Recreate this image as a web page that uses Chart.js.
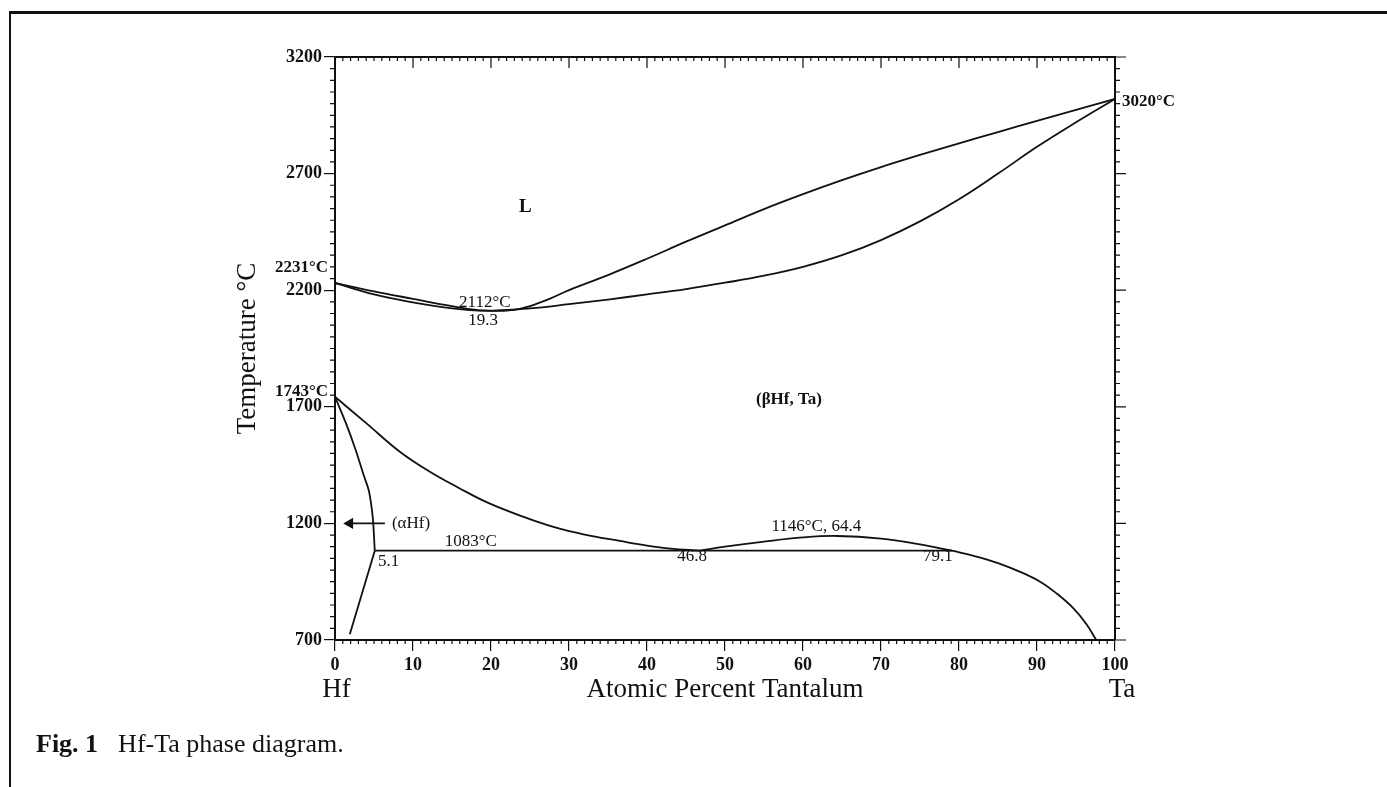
<!DOCTYPE html>
<html>
<head>
<meta charset="utf-8">
<script src="https://cdn.jsdelivr.net/npm/chart.js@4.4.1/dist/chart.umd.min.js"></script>
<style>
    body { margin: 0; background: #fff; overflow: hidden; }
    #frame { position: absolute; left: 9px; top: 11px; width: 1378px; height: 776px;
             border-top: 3px solid #111; border-left: 2px solid #111; }
    #c { position: absolute; left: 0; top: 0; }
    #caption { position: absolute; left: 36px; top: 731px; font: 26px "Liberation Serif", serif;
               line-height: 1; color: #111; white-space: pre; }
    #caption b { margin-right: 20px; }
</style>
</head>
<body>
<div id="frame"></div>
<canvas id="c" width="1387" height="787"></canvas>
<div id="caption"><b>Fig. 1</b>Hf-Ta phase diagram.</div>
<script>
// axis ticks
const compTicks = [0, 10, 20, 30, 40, 50, 60, 70, 80, 90, 100];
const tempTicks = [700, 1200, 1700, 2200, 2700, 3200];

// liquidus (upper L boundary)
const liquidusComp = [0, 5, 10, 15, 19.3, 23, 25, 27.5, 30, 35, 40, 45, 50, 55, 60, 65, 70, 75, 80, 85, 90, 95, 100];
const liquidusTemp = [2231, 2195, 2163, 2132, 2112, 2116, 2132, 2163, 2200, 2265, 2335, 2408, 2478, 2548, 2612, 2672, 2728, 2780, 2830, 2878, 2926, 2973, 3020];

// solidus
const solidusComp = [0, 5, 10, 15, 19.3, 25, 30, 35, 40, 45, 50, 55, 60, 65, 70, 75, 80, 85, 90, 95, 100];
const solidusTemp = [2231, 2182, 2148, 2122, 2112, 2122, 2140, 2160, 2182, 2205, 2232, 2262, 2300, 2350, 2415, 2495, 2590, 2700, 2815, 2920, 3020];

// (βHf,Ta) / (αHf + β) boundary
const betaComp = [0, 4, 8.4, 12, 16, 19.5, 24, 28, 32, 36.5, 40, 43, 46.8];
const betaTemp = [1743, 1630, 1505, 1425, 1350, 1290, 1230, 1185, 1152, 1125, 1105, 1092, 1083];

// (αHf) / (αHf + β) boundary
const alphaComp = [0, 1.4, 2.65, 3.7, 4.3, 4.6, 4.87, 5.1];
const alphaTemp = [1743, 1630, 1515, 1405, 1345, 1290, 1215, 1083];

// (αHf) solvus below the monotectoid
const alphaSolvusComp = [5.1, 1.9];
const alphaSolvusTemp = [1083, 725];

// monotectoid line
const monoComp = [5.1, 79.1];
const monoTemp = [1083, 1083];

// miscibility gap dome
const gapComp = [46.8, 50, 55, 60, 64.4, 70, 75, 79.1];
const gapTemp = [1083, 1100, 1122, 1140, 1146, 1135, 1110, 1083];

// Ta-rich solvus
const taSolvusComp = [79.1, 82, 85, 88, 90.5, 92.5, 94.7, 96.3, 97.6];
const taSolvusTemp = [1083, 1060, 1030, 990, 948, 900, 835, 770, 700];

// arrow to (αHf)
const arrowComp = [6.4, 1.9];
const arrowTemp = [1200, 1200];

// text in the diagram (data coordinates)
const notes = [
    { text: 'L', x: 24.4, y: 2558, font: 'bold 19px', align: 'center' },
    { text: '2112°C', x: 19.2, y: 2147, font: '17px', align: 'center' },
    { text: '19.3', x: 19.0, y: 2070, font: '17px', align: 'center' },
    { text: '(βHf, Ta)', x: 58.2, y: 1729, font: 'bold 17px', align: 'center' },
    { text: '(αHf)', x: 7.3, y: 1200, font: '17px', align: 'left' },
    { text: '1083°C', x: 17.4, y: 1124, font: '17px', align: 'center' },
    { text: '5.1', x: 5.5, y: 1038, font: '17px', align: 'left' },
    { text: '1146°C, 64.4', x: 61.7, y: 1186, font: '17px', align: 'center' },
    { text: '46.8', x: 45.8, y: 1058, font: '17px', align: 'center' },
    { text: '79.1', x: 77.3, y: 1058, font: '17px', align: 'center' },
    { text: '2231°C', x: -0.9, y: 2295, font: 'bold 17px', align: 'right' },
    { text: '1743°C', x: -0.9, y: 1765, font: 'bold 17px', align: 'right' },
    { text: '3020°C', x: 100.9, y: 3010, font: 'bold 17px', align: 'left' }
];

const pts = (xs, ys) => xs.map((v, i) => ({ x: v, y: ys[i] }));

const curve = (xs, ys, tension) => ({
    data: pts(xs, ys),
    showLine: true,
    borderColor: '#111',
    borderWidth: 1.8,
    pointRadius: 0,
    tension: tension
});

const extras = {
    id: 'extras',
    afterDatasetsDraw(chart) {
        const { ctx, chartArea: a, scales: { x, y } } = chart;
        ctx.save();
        ctx.strokeStyle = '#111';

        // top and right frame
        ctx.lineWidth = 2;
        ctx.beginPath();
        ctx.moveTo(a.left, a.top);
        ctx.lineTo(a.right, a.top);
        ctx.lineTo(a.right, a.bottom);
        ctx.stroke();

        // minor ticks, and the top / right major ticks
        ctx.lineWidth = 1.2;
        ctx.beginPath();
        for (let v = 0; v <= 100; v++) {
            const px = x.getPixelForValue(v);
            const major = v % 10 === 0;
            ctx.moveTo(px, a.top);
            ctx.lineTo(px, a.top + (major ? 11 : 4));
            if (!major) {
                ctx.moveTo(px, a.bottom);
                ctx.lineTo(px, a.bottom + 4);
            }
        }
        for (let t = 700; t <= 3200; t += 50) {
            const py = y.getPixelForValue(t);
            const major = tempTicks.includes(t);
            ctx.moveTo(a.right, py);
            ctx.lineTo(a.right + (major ? 11 : 5), py);
            if (!major) {
                ctx.moveTo(a.left, py);
                ctx.lineTo(a.left - 5, py);
            }
        }
        ctx.stroke();

        // labels
        ctx.fillStyle = '#111';
        ctx.textBaseline = 'middle';
        notes.forEach(n => {
            ctx.font = n.font + ' "Liberation Serif", serif';
            ctx.textAlign = n.align;
            ctx.fillText(n.text, x.getPixelForValue(n.x), y.getPixelForValue(n.y));
        });

        // element names under the axis ends
        ctx.font = '27px "Liberation Serif", serif';
        ctx.textAlign = 'center';
        ctx.fillText('Hf', x.getPixelForValue(0.2), a.bottom + 50);
        ctx.fillText('Ta', x.getPixelForValue(100.9), a.bottom + 50);
        ctx.restore();
    }
};

Chart.defaults.font.family = '"Liberation Serif", serif';
Chart.defaults.color = '#111';

new Chart(document.getElementById('c'), {
    type: 'scatter',
    data: {
        datasets: [
            curve(liquidusComp, liquidusTemp, 0.4),
            curve(solidusComp, solidusTemp, 0.4),
            curve(betaComp, betaTemp, 0.4),
            curve(alphaComp, alphaTemp, 0.3),
            curve(alphaSolvusComp, alphaSolvusTemp, 0),
            curve(monoComp, monoTemp, 0),
            curve(gapComp, gapTemp, 0.4),
            curve(taSolvusComp, taSolvusTemp, 0.4),
            {
                data: pts(arrowComp, arrowTemp),
                showLine: true,
                borderColor: '#111',
                backgroundColor: '#111',
                borderWidth: 1.6,
                pointRadius: [0, 5],
                pointStyle: 'triangle',
                rotation: -90
            }
        ]
    },
    options: {
        responsive: false,
        animation: false,
        devicePixelRatio: 1,
        layout: { padding: { left: 232, top: 57, right: 272, bottom: 81 } },
        plugins: { legend: { display: false }, tooltip: { enabled: false } },
        scales: {
            x: {
                type: 'linear',
                min: 0,
                max: 100,
                afterBuildTicks: s => { s.ticks = compTicks.map(v => ({ value: v })); },
                afterFit: s => { s.height = 66; },
                ticks: { font: { size: 18, weight: 'bold' }, color: '#111', padding: 4, maxRotation: 0,
                         callback: v => String(v) },
                grid: { drawOnChartArea: false, tickLength: 11, color: '#111', lineWidth: 1.2 },
                border: { color: '#111', width: 2 },
                title: { display: true, text: 'Atomic Percent Tantalum', font: { size: 27 }, color: '#111', padding: 0 }
            },
            y: {
                type: 'linear',
                min: 700,
                max: 3200,
                afterBuildTicks: s => { s.ticks = tempTicks.map(v => ({ value: v })); },
                afterFit: s => { s.width = 103; },
                ticks: { font: { size: 18, weight: 'bold' }, color: '#111', padding: 2,
                         callback: v => String(v) },
                grid: { drawOnChartArea: false, tickLength: 11, color: '#111', lineWidth: 1.2 },
                border: { color: '#111', width: 2 },
                title: { display: true, text: 'Temperature °C', font: { size: 27 }, color: '#111', padding: 0 }
            }
        }
    },
    plugins: [extras]
});
</script>
</body>
</html>
